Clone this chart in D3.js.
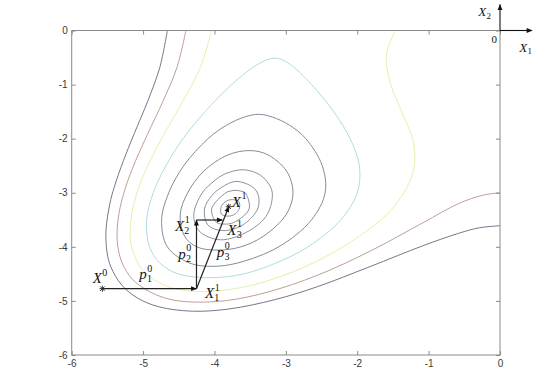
<!DOCTYPE html>
<html>
<head>
<meta charset="utf-8">
<script src="https://cdn.jsdelivr.net/npm/d3@7"></script>
<style>
  body { margin: 0; background: #fff; }
  svg { display: block; background: #fff; }
  .tick text { font-family: "Liberation Sans", Arial, sans-serif; font-size: 10px; fill: #3a3a3a; }
  .tick line { stroke: #8a8a8a; }
  .math { font-family: "Liberation Serif", "Times New Roman", serif; fill: #111; }
</style>
</head>
<body>
<svg id="chart" width="552" height="371"></svg>
<script>
// ticks
const xTicks = [-6, -5, -4, -3, -2, -1, 0];
const yTicks = [-6, -5, -4, -3, -2, -1, 0];

// contour lines as [x1, x2] points (outer -> inner)
const level250 = [[-4.66,0],[-4.765,-0.68],[-4.93,-1.29],[-5.125,-1.91],[-5.273,-2.4],[-5.405,-2.9],[-5.465,-3.2],
  [-5.52,-3.7],[-5.505,-4.1],[-5.45,-4.375],[-5.3,-4.705],[-5.08,-4.945],[-4.78,-5.108],[-4.31,-5.19],[-3.79,-5.148],
  [-3.15,-4.975],[-2.56,-4.738],[-1.82,-4.365],[-1.08,-3.98],[-0.58,-3.75],[-0.29,-3.648],[0,-3.61]];
const level200 = [[-4.40,0],[-4.525,-0.68],[-4.715,-1.29],[-4.935,-1.91],[-5.102,-2.4],[-5.245,-2.9],[-5.34,-3.4],
  [-5.362,-3.9],[-5.293,-4.3],[-5.149,-4.6],[-4.948,-4.8],[-4.7,-4.944],[-4.39,-5.015],[-3.84,-4.995],[-3.25,-4.835],
  [-2.56,-4.527],[-1.82,-4.08],[-1.08,-3.555],[-0.58,-3.2],[-0.24,-3.045],[0,-3.0]];
const level150 = [[-4.04,0],[-4.198,-0.68],[-4.435,-1.29],[-4.703,-1.91],[-4.9,-2.4],[-5.06,-2.9],[-5.16,-3.4],
  [-5.175,-3.9],[-5.073,-4.3],[-4.949,-4.5],[-4.72,-4.7],[-4.45,-4.8],[-4.14,-4.828],[-3.64,-4.757],[-3.05,-4.538],
  [-2.46,-4.195],[-1.97,-3.802],[-1.57,-3.382],[-1.32,-2.94],[-1.2,-2.51],[-1.22,-2.03],[-1.385,-1.48],
  [-1.548,-0.92],[-1.59,-0.43],[-1.465,0]];
const level100 = [[-3.15,-0.51],[-2.97,-0.6],[-2.64,-1.0],[-2.33,-1.5],[-2.10,-2.0],[-1.97,-2.5],[-2.0,-3.0],
  [-2.23,-3.5],[-2.69,-4.0],[-3.14,-4.3],[-3.59,-4.5],[-4.05,-4.57],[-4.51,-4.5],[-4.765,-4.3],[-4.91,-4.0],
  [-4.95,-3.5],[-4.857,-3.0],[-4.68,-2.5],[-4.44,-2.0],[-4.13,-1.5],[-3.76,-1.0],[-3.36,-0.6]];
const level64 = [[-3.38,-1.55],[-3.19,-1.6],[-2.95,-1.75],[-2.72,-2.0],[-2.49,-2.5],[-2.45,-3.0],[-2.64,-3.5],
  [-3.10,-4.0],[-3.68,-4.3],[-4.02,-4.36],[-4.35,-4.3],[-4.66,-4.0],[-4.74,-3.5],[-4.64,-3.0],[-4.43,-2.5],
  [-4.09,-2.0],[-3.83,-1.75],[-3.58,-1.6]];
const level32 = [[-3.5,-2.22],[-3.25,-2.3],[-2.99,-2.6],[-2.9,-3.0],[-2.995,-3.4],[-3.31,-3.8],[-3.63,-4.0],
  [-3.95,-4.06],[-4.25,-4.0],[-4.42,-3.8],[-4.48,-3.4],[-4.375,-3.0],[-4.15,-2.6],[-3.81,-2.3]];
const level16 = [[-3.6,-2.575],[-3.39,-2.65],[-3.26,-2.8],[-3.19,-3.0],[-3.26,-3.4],[-3.51,-3.7],[-3.92,-3.87],
  [-4.22,-3.7],[-4.29,-3.4],[-4.17,-3.0],[-4.02,-2.8],[-3.85,-2.65]];
const level8 = [[-3.7,-2.79],[-3.46,-2.9],[-3.385,-3.05],[-3.395,-3.3],[-3.61,-3.6],[-3.88,-3.7],[-4.09,-3.6],
  [-4.14,-3.3],[-4.035,-3.05],[-3.9,-2.9]];
const level4 = [[-3.7,-2.955],[-3.63,-2.97],[-3.57,-3.0],[-3.515,-3.3],[-3.73,-3.55],[-3.86,-3.58],[-3.97,-3.55],
  [-4.04,-3.3],[-3.84,-3.0],[-3.78,-2.97]];
const level1 = [[-3.78,-3.13],[-3.66,-3.16],[-3.65,-3.28],[-3.69,-3.37],[-3.78,-3.43],[-3.90,-3.40],[-3.91,-3.28],
  [-3.87,-3.19]];

// search steps
const stepNames  = ['X0', 'X11', 'X21', 'X31', 'X1'];
const stepX1     = [-5.57, -4.252, -4.252, -3.89, -3.80];
const stepX2     = [-4.774, -4.774, -3.504, -3.504, -3.258];
const stepArrows = [['X0', 'X11'], ['X11', 'X21'], ['X21', 'X31'], ['X11', 'X1']];

// annotation labels: main letter, superscript, subscript, anchor (data coords)
const labelMain = ['X', 'p', 'p', 'p', 'X', 'X', 'X', 'X'];
const labelSup  = ['0', '0', '0', '0', '1', '1', '1', '1'];
const labelSub  = ['', '1', '2', '3', '2', '3', '', '1'];
const labelX1   = [-5.706, -5.053, -4.507, -3.969, -4.553, -3.82, -3.758, -4.133];
const labelX2   = [-4.675, -4.604, -4.216, -4.188, -3.698, -3.781, -3.258, -4.952];

const svg = d3.select('#chart');
const x = d3.scaleLinear().domain([-6, 0]).range([71.7, 500]);
const y = d3.scaleLinear().domain([-6, 0]).range([355, 30.5]);

const defs = svg.append('defs');
defs.append('clipPath').attr('id', 'plot')
  .append('rect')
    .attr('x', x(-6)).attr('y', y(0))
    .attr('width', x(0) - x(-6)).attr('height', y(-6) - y(0));

defs.append('marker')
    .attr('id', 'head')
    .attr('viewBox', '0 0 10 10')
    .attr('refX', 9).attr('refY', 5)
    .attr('markerWidth', 7).attr('markerHeight', 6)
    .attr('markerUnits', 'userSpaceOnUse')
    .attr('orient', 'auto')
  .append('path')
    .attr('d', 'M0,1 L10,5 L0,9 Z')
    .attr('fill', '#111');

// contours
const contours = [
  {pts: level250, closed: false, color: '#7a7589'},
  {pts: level200, closed: false, color: '#bf9e95'},
  {pts: level150, closed: false, color: '#eaedaa'},
  {pts: level100, closed: true,  color: '#acdde0'},
  {pts: level64,  closed: true,  color: '#848b99'},
  {pts: level32,  closed: true,  color: '#848b99'},
  {pts: level16,  closed: true,  color: '#8a919d'},
  {pts: level8,   closed: true,  color: '#8a919d'},
  {pts: level4,   closed: true,  color: '#8a919d'},
  {pts: level1,   closed: true,  color: '#8a919d'}
];

const openLine = d3.line().x(d => x(d[0])).y(d => y(d[1])).curve(d3.curveCatmullRom.alpha(0.5));
const closedLine = d3.line().x(d => x(d[0])).y(d => y(d[1])).curve(d3.curveCatmullRomClosed.alpha(0.5));

svg.append('g')
    .attr('clip-path', 'url(#plot)')
  .selectAll('path')
  .data(contours)
  .join('path')
    .attr('d', d => d.closed ? closedLine(d.pts) : openLine(d.pts))
    .attr('fill', 'none')
    .attr('stroke', d => d.color)
    .attr('stroke-width', 1);

// axes: ticks inside on all four sides, box drawn separately
const fmt = d => String(d);
svg.append('g')
    .attr('transform', `translate(0,${y(-6)})`)
    .call(d3.axisBottom(x).tickValues(xTicks).tickFormat(fmt).tickSizeInner(-4).tickSizeOuter(0).tickPadding(5))
    .call(g => g.select('.domain').remove());
svg.append('g')
    .attr('transform', `translate(${x(-6)},0)`)
    .call(d3.axisLeft(y).tickValues(yTicks).tickFormat(fmt).tickSizeInner(-4).tickSizeOuter(0).tickPadding(4))
    .call(g => g.select('.domain').remove());
svg.append('g')
    .attr('transform', `translate(0,${y(0)})`)
    .call(d3.axisTop(x).tickValues(xTicks).tickFormat('').tickSizeInner(-4).tickSizeOuter(0))
    .call(g => g.select('.domain').remove());
svg.append('g')
    .attr('transform', `translate(${x(0)},0)`)
    .call(d3.axisRight(y).tickValues(yTicks).tickFormat('').tickSizeInner(-4).tickSizeOuter(0))
    .call(g => g.select('.domain').remove());

svg.append('rect')
    .attr('x', x(-6)).attr('y', y(0))
    .attr('width', x(0) - x(-6)).attr('height', y(-6) - y(0))
    .attr('fill', 'none')
    .attr('stroke', '#8a8a8a')
    .attr('stroke-width', 1);

// search path
const pos = {};
stepNames.forEach((n, i) => { pos[n] = [stepX1[i], stepX2[i]]; });

svg.append('g')
  .selectAll('line')
  .data(stepArrows)
  .join('line')
    .attr('x1', d => x(pos[d[0]][0]))
    .attr('y1', d => y(pos[d[0]][1]))
    .attr('x2', d => x(pos[d[1]][0]))
    .attr('y2', d => y(pos[d[1]][1]))
    .attr('stroke', '#222')
    .attr('stroke-width', 1.2)
    .attr('marker-end', 'url(#head)');

// '*' markers on the start point and the end point
const star = 'M-3,0H3M0,-3V3M-2.2,-2.2L2.2,2.2M-2.2,2.2L2.2,-2.2';
svg.append('g')
  .selectAll('path')
  .data(['X0', 'X1'])
  .join('path')
    .attr('transform', d => `translate(${x(pos[d][0])},${y(pos[d][1])})`)
    .attr('d', star)
    .attr('stroke', '#222')
    .attr('stroke-width', 0.9)
    .attr('fill', 'none');

// math labels
function mathLabel(g, px, py, main, sup, sub, size, small) {
  const t = g.append('text')
      .attr('class', 'math')
      .attr('x', px).attr('y', py)
      .attr('font-size', size)
      .attr('font-style', 'italic')
      .text(main);
  const w = t.node().getComputedTextLength();
  if (sup) g.append('text').attr('class', 'math')
      .attr('x', px + w + 0.5).attr('y', py - size * 0.52)
      .attr('font-size', small).text(sup);
  if (sub) g.append('text').attr('class', 'math')
      .attr('x', px + w + 0.2).attr('y', py + size * 0.2)
      .attr('font-size', small).text(sub);
}

const lg = svg.append('g');
labelMain.forEach((m, i) => {
  mathLabel(lg, x(labelX1[i]), y(labelX2[i]), m, labelSup[i], labelSub[i], 15, 10);
});

// small coordinate frame in the top-right corner
const ox = x(0), oy = y(0);
const frame = svg.append('g');
frame.append('line')
    .attr('x1', ox).attr('y1', oy).attr('x2', ox).attr('y2', oy - 26)
    .attr('stroke', '#111').attr('stroke-width', 1.1)
    .attr('marker-end', 'url(#head)');
frame.append('line')
    .attr('x1', ox).attr('y1', oy).attr('x2', ox + 32).attr('y2', oy)
    .attr('stroke', '#111').attr('stroke-width', 1.1)
    .attr('marker-end', 'url(#head)');
mathLabel(frame, ox - 21.7, oy - 14.5, 'X', '', '2', 13, 9);
mathLabel(frame, ox + 19.3, oy + 21.2, 'X', '', '1', 13, 9);
frame.append('text')
    .attr('class', 'math')
    .attr('x', ox - 8.5).attr('y', oy + 12.8)
    .attr('font-size', 11)
    .text('0');
</script>
</body>
</html>
